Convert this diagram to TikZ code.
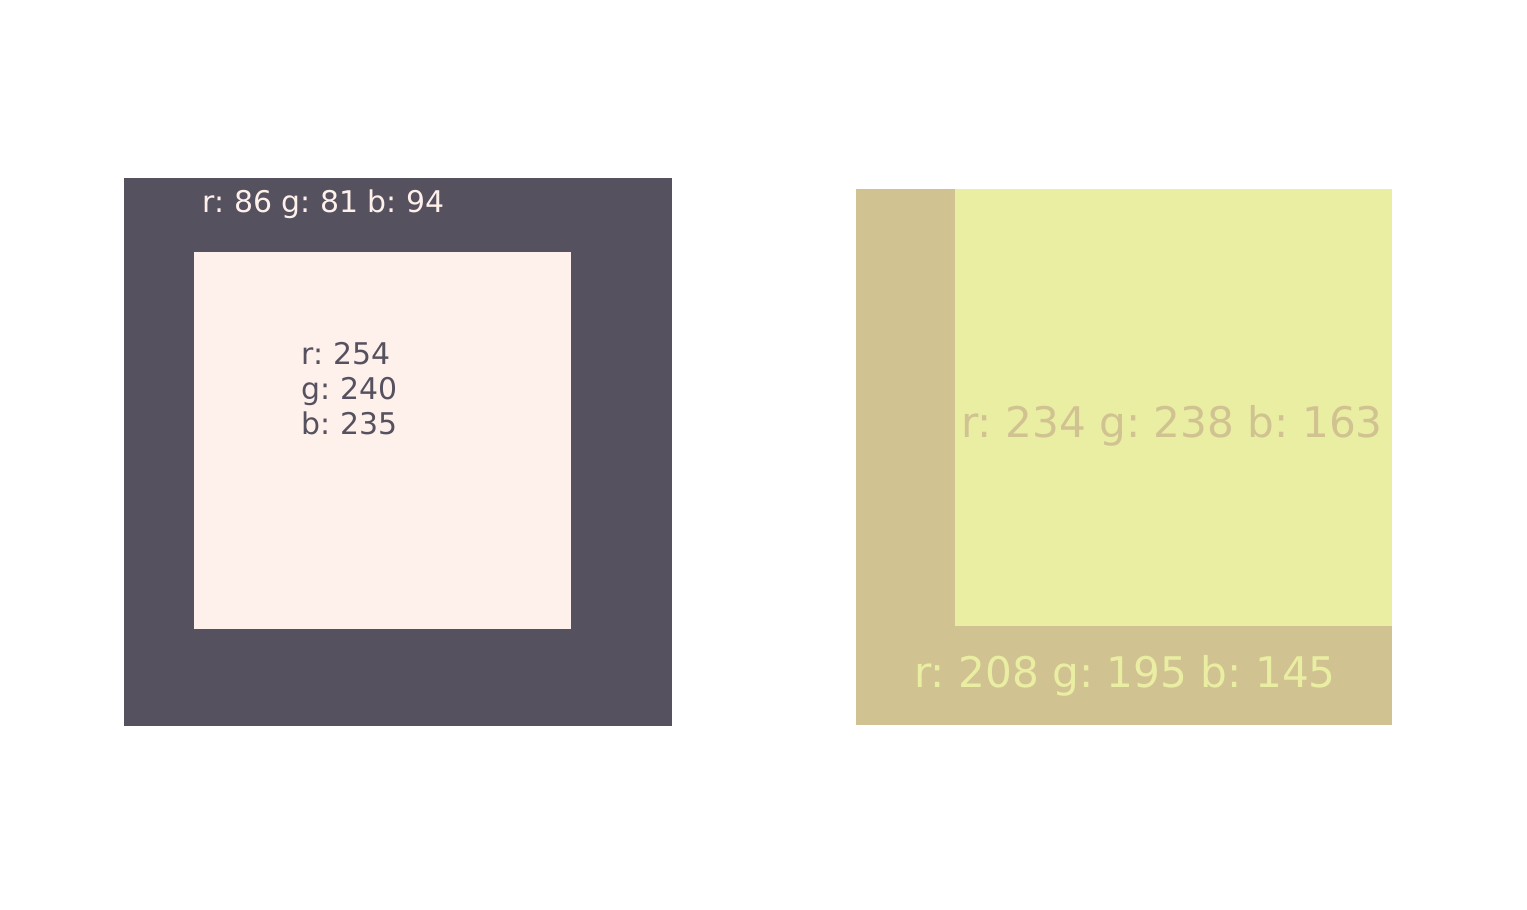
\documentclass[tikz,border=0pt]{standalone}
\usepackage{fontspec}
\setmainfont{DejaVu Sans}
\frenchspacing
\definecolor{darkbox}{RGB}{86,81,94}
\definecolor{lightbox}{RGB}{254,240,235}
\definecolor{tanbox}{RGB}{208,195,145}
\definecolor{yellowbox}{RGB}{234,238,163}
\begin{document}
\begin{tikzpicture}[x=0.01cm,y=-0.01cm]
\tikzstyle{every node}+=[inner sep=0pt]
\tikzstyle{small label}=[font=\fontsize{8.5}{10}\selectfont]
\tikzstyle{big label}=[font=\fontsize{12}{14}\selectfont]
\useasboundingbox (0,0) rectangle (1527,910);
\fill [darkbox] (124,178) rectangle (672,726);
\fill [lightbox] (194,252) rectangle (571,629);
\fill [tanbox] (856,189) rectangle (1392,725);
\fill [yellowbox] (955,189) rectangle (1392,626);
\draw (202,213) node [small label, anchor=base west, text=lightbox] (outerlabel) {r: 86 g: 81 b: 94};
\draw (301,365) node [small label, anchor=base west, text=darkbox] (innerr) {r: 254};
\draw (301,400) node [small label, anchor=base west, text=darkbox] (innerg) {g: 240};
\draw (301,435) node [small label, anchor=base west, text=darkbox] (innerb) {b: 235};
\draw (1172,438) node [big label, anchor=base, text=tanbox] (yellowlabel) {r: 234 g: 238 b: 163};
\draw (1125,688) node [big label, anchor=base, text=yellowbox] (tanlabel) {r: 208 g: 195 b: 145};
\end{tikzpicture}
\end{document}
